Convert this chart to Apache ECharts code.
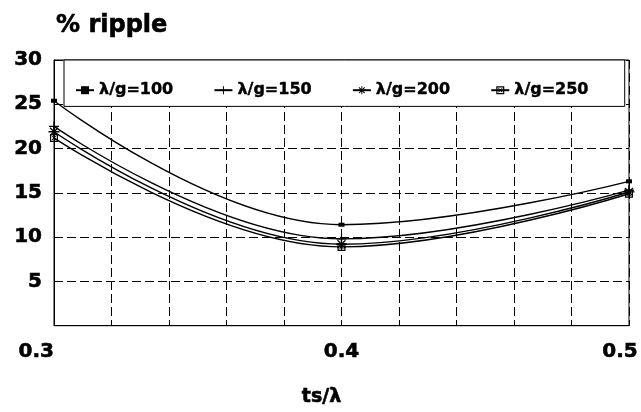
<!DOCTYPE html>
<html>
<head>
<meta charset="utf-8">
<script src="https://cdn.jsdelivr.net/npm/echarts@6/dist/echarts.min.js"></script>
<style>
  html, body { margin: 0; padding: 0; background: #fff; }
  #chart { width: 641px; height: 412px; }
</style>
</head>
<body>
<div id="chart"></div>
<script>
// ts/lambda values where the points were measured
var tsRatio = [0.3, 0.4, 0.5];

// % ripple for each lambda/g
var ripple100 = [25.4, 11.4, 16.3];
var ripple150 = [22.5, 9.8, 15.3];
var ripple200 = [21.9, 9.2, 15.1];
var ripple250 = [21.2, 8.9, 14.9];

var seriesNames = ['λ/g=100', 'λ/g=150', 'λ/g=200', 'λ/g=250'];

var FONT = '"DejaVu Sans", "Liberation Sans", sans-serif';
// scanned labels are heavy, a thin stroke thickens the bold face a bit
var heavy = { fontFamily: FONT, fontWeight: 'bold', color: '#000', textBorderColor: '#000', textBorderWidth: 0.6 };

function txt(size, extra) {
  return Object.assign({}, heavy, { fontSize: size }, extra || {});
}

// marker shapes
var plusPath = 'path://M4.4,0h1.2v10h-1.2z M0,4.4h10v1.2h-10z';
var starPath = 'path://M4.4,0h1.2v10h-1.2z M0,4.4h10v1.2h-10z M1,1.8 L1.8,1 L9,8.2 L8.2,9z M8.2,1 L9,1.8 L1.8,9 L1,8.2z';
var boxPath = 'path://M0,0h10v10h-10z M1.5,1.5v7h7v-7z M2.2,3 L3,2.2 L7.8,7 L7,7.8z M7,2.2 L7.8,3 L3,7.8 L2.2,7z';

function pairs(ys) {
  return tsRatio.map(function (x, i) { return [x, ys[i]]; });
}

function line(name, ys, symbol, size) {
  return {
    name: name,
    type: 'line',
    smooth: 0.42,
    data: pairs(ys),
    symbol: symbol,
    symbolSize: size,
    showSymbol: true,
    lineStyle: { color: '#000', width: 1.4 },
    itemStyle: { color: '#000', borderWidth: 0 },
    emphasis: { disabled: true }
  };
}

var chart = echarts.init(document.getElementById('chart'));

chart.setOption({
  animation: false,
  backgroundColor: '#fff',
  title: {
    text: '% ripple',
    left: 51,
    top: 9,
    textStyle: txt(24)
  },
  grid: {
    left: 54, right: 11, top: 60, bottom: 83,
    show: true, borderColor: '#000', borderWidth: 1
  },
  legend: {
    data: seriesNames,
    left: 64,
    top: 60,
    padding: [22, 36, 8, 11],
    itemGap: 40,
    itemWidth: 18,
    itemHeight: 10,
    backgroundColor: '#fff',
    borderColor: '#000',
    borderWidth: 1,
    textStyle: txt(16, { lineHeight: 16, textBorderWidth: 0.4 })
  },
  xAxis: {
    type: 'value',
    min: 0.3,
    max: 0.5,
    interval: 0.02,
    name: 'ts/λ',
    nameLocation: 'middle',
    nameGap: 62,
    nameTextStyle: txt(19, { padding: [0, 40, 0, 0] }),
    axisLine: { lineStyle: { color: '#000', width: 1 } },
    axisTick: { show: false },
    axisLabel: Object.assign(txt(20), {
      margin: 16,
      alignMinLabel: 'right',
      alignMaxLabel: 'center',
      formatter: function (v) {
        if (Math.abs(v * 10 - Math.round(v * 10)) > 1e-6) return '';
        var s = v.toFixed(1);
        return s === '0.5' ? '{last|' + s + '}' : s;
      },
      rich: { last: txt(20, { padding: [0, 18, 0, 0] }) }
    }),
    splitLine: { show: true, lineStyle: { color: '#000', type: [9, 4], width: 1 } }
  },
  yAxis: {
    type: 'value',
    min: 0,
    max: 30,
    interval: 5,
    axisLine: { show: true, lineStyle: { color: '#000', width: 1 } },
    axisTick: { show: false },
    axisLabel: Object.assign(txt(20), {
      margin: 12,
      formatter: function (v) { return v === 0 ? '' : String(v); }
    }),
    splitLine: { show: true, lineStyle: { color: '#000', type: [9, 4], width: 1 } }
  },
  series: [
    line(seriesNames[0], ripple100, 'rect', [6, 4]),
    line(seriesNames[1], ripple150, plusPath, 10),
    line(seriesNames[2], ripple200, starPath, 11),
    line(seriesNames[3], ripple250, boxPath, 8)
  ]
});
</script>
</body>
</html>
